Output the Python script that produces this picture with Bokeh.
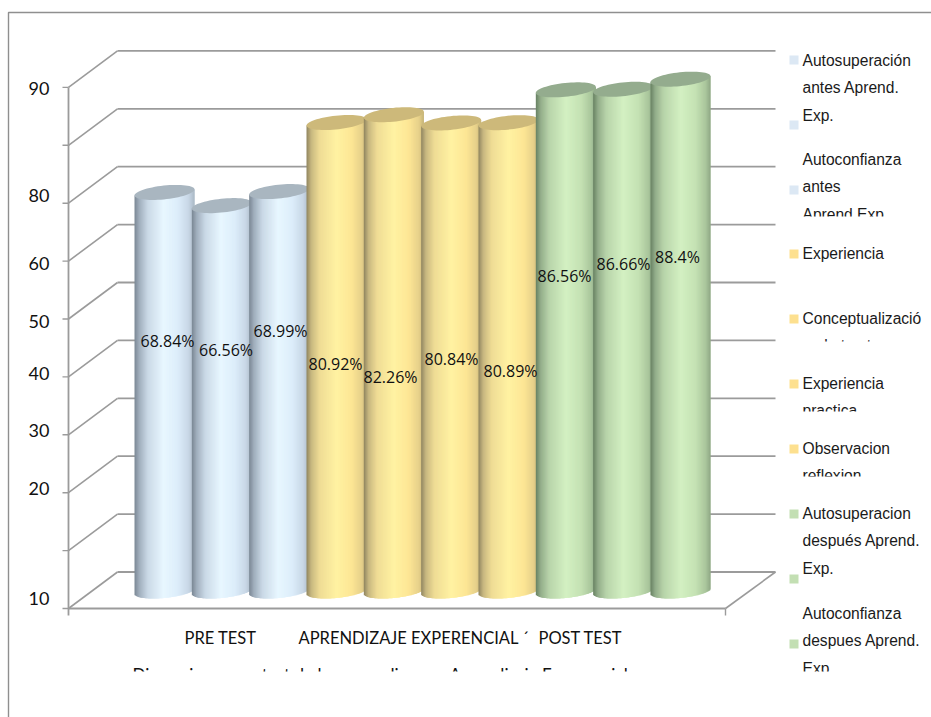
import numpy as np
from bokeh.core.properties import value
from bokeh.embed import file_html
from bokeh.models import Range1d
from bokeh.plotting import figure
from bokeh.resources import INLINE

# Series values, one cylinder each, in percent
percentages = [68.84, 66.56, 68.99, 80.92, 82.26, 80.84, 80.89, 86.56, 86.66, 88.4]
percent_labels = ["68.84%", "66.56%", "68.99%", "80.92%", "82.26%",
                  "80.84%", "80.89%", "86.56%", "86.66%", "88.4%"]
group_of_bar = ["blue"] * 3 + ["yellow"] * 4 + ["green"] * 3

axis_ticks = [0, 10, 20, 30, 40, 50, 60, 70, 80, 90]
axis_labels = ["90", "80", "60", "50", "40", "30", "20", "10"]
categories = ["PRE TEST", "APRENDIZAJE EXPERENCIAL ´", "POST TEST"]
chart_title = "Dimensiones pre test de los aprendices en Aprendizaje Experencial"

legend_entries = [
    ("blue", ["Autosuperación", "antes Aprend.", "Exp."]),
    ("blue", ["Autoconfianza", "antes", "Aprend Exp"]),
    ("yellow", ["Experiencia"]),
    ("yellow", ["Conceptualizació", "n abstracta"]),
    ("yellow", ["Experiencia", "practica"]),
    ("yellow", ["Observacion", "reflexion"]),
    ("green", ["Autosuperacion", "después Aprend.", "Exp."]),
    ("green", ["Autoconfianza", "despues Aprend.", "Exp."]),
]

# Page layout, in screen pixels
W, H = 931, 717
PX_PER_UNIT = 5.79
ZERO_PY = 608.0


def val(py):
    """Value-axis coordinate of a screen row."""
    return (ZERO_PY - np.asarray(py, dtype=float)) / PX_PER_UNIT


p = figure(width=W, height=H, output_backend="svg", toolbar_location=None,
           x_range=Range1d(0, W), y_range=Range1d(float(val(H)), float(val(0))),
           min_border=0, x_axis_type=None, y_axis_type=None)
p.grid.visible = False
p.outline_line_color = None
p.background_fill_color = "white"
p.border_fill_color = "white"

GRID = "#9b9b9b"

# Outer frame: only the top and left edges fall inside the page
p.line([8, 8, W], val([H, 12, 12]).tolist(), line_color="#8f8f8f", line_width=1.4)

# 3D box: back wall rules, left wall diagonals, floor
DEPTH_X, DEPTH_Y = 49, 36.5
FRONT_L, FRONT_R = 68, 725
BACK_L, BACK_R = FRONT_L + DEPTH_X, 775
tv = np.array(axis_ticks, dtype=float)
depth_v = DEPTH_Y / PX_PER_UNIT
p.segment(BACK_L, tv + depth_v, BACK_R, tv + depth_v, line_color=GRID, line_width=1.8)
p.segment(FRONT_L, tv, BACK_L, tv + depth_v, line_color=GRID, line_width=1.6)
p.segment(62, tv, FRONT_L, tv, line_color=GRID, line_width=1.4)
p.segment(FRONT_L, float(val(615)), FRONT_L, 90, line_color=GRID, line_width=1.8)
p.segment(FRONT_L, 0, FRONT_R, 0, line_color=GRID, line_width=1.8)
p.segment(FRONT_R, 0, BACK_R, depth_v, line_color=GRID, line_width=1.6)
p.segment(FRONT_R, float(val(615)), FRONT_R, 0, line_color=GRID, line_width=1.4)

# Cylinder shading: horizontal stops from the left edge to the right edge
SHADES = {
    "blue": [(0.0, "#7a8794"), (0.08, "#a0aebc"), (0.22, "#c9d8e6"), (0.48, "#e8f7ff"),
             (0.72, "#dcedfa"), (0.9, "#c8d7e6"), (1.0, "#aab8c5")],
    "yellow": [(0.0, "#8f8560"), (0.08, "#c8b880"), (0.22, "#efdc95"), (0.5, "#fff2a2"),
               (0.75, "#fde695"), (0.92, "#e6d08a"), (1.0, "#c5b378")],
    "green": [(0.0, "#688163"), (0.08, "#93ad8a"), (0.22, "#b8d4aa"), (0.5, "#d3f0c2"),
              (0.75, "#c5e2b4"), (0.92, "#aac69c"), (1.0, "#8ea885")],
}
CAP = {"blue": "#a9b6c0", "yellow": "#cdb97a", "green": "#94ac8e"}
SWATCH = {"blue": "#dce8f4", "yellow": "#fde08f", "green": "#c3dfb3"}


def shade(group, u):
    stops = SHADES[group]
    pos = [s[0] for s in stops]
    rgb = np.array([[int(s[1][i:i + 2], 16) for i in (1, 3, 5)] for s in stops], dtype=float)
    return "#%02x%02x%02x" % tuple(int(round(np.interp(u, pos, rgb[:, c]))) for c in range(3))


# Cylinders stand on a plane set back from the front edge of the floor
BASE_V = 3.02
RADIUS = 30.0
RY_V = 6.9 / PX_PER_UNIT
TILT = 0.1 / PX_PER_UNIT
FIRST_CENTER, PITCH = 164.0, 57.33

for i, (pct, group) in enumerate(zip(percentages, group_of_bar)):
    cx = FIRST_CENTER + PITCH * i
    left = np.arange(cx - RADIUS, cx + RADIUS, 1.0)
    mid = left + 0.5
    dx = mid - cx
    lean = TILT * dx
    top_edge = BASE_V + pct + lean
    bottom_edge = BASE_V + lean - RY_V * np.sqrt(np.clip(1 - (dx / RADIUS) ** 2, 0, 1))
    colors = [shade(group, float(u)) for u in (dx + RADIUS) / (2 * RADIUS)]
    # Each strip runs under its neighbour so no background shows between them
    p.quad(left=left, right=np.minimum(left + 2.2, cx + RADIUS), top=top_edge, bottom=bottom_edge,
           fill_color=colors, line_color=None)
    t = np.linspace(0, 2 * np.pi, 64)
    cap_x = cx + RADIUS * np.cos(t)
    cap_y = BASE_V + pct + TILT * RADIUS * np.cos(t) + RY_V * np.sin(t)
    p.patch(cap_x, cap_y, fill_color=CAP[group], line_color=None)

FONT_DATA = value("Open Sans")
FONT_AXIS = value("Lato")
FONT_LEGEND = value("Liberation Sans")

# Percent captions
label_x = [167, 225.5, 280, 335, 390, 451, 510, 564, 623, 677]
label_y = [340, 349, 330, 363, 376, 358, 370, 275, 263, 256]
p.text(label_x, val(label_y), text=percent_labels, text_font=FONT_DATA, text_font_size="16px",
       text_align="center", text_baseline="middle", text_color="#111111")

# Value-axis captions
axis_label_y = [88, 195, 263, 321, 373, 430, 488, 598]
p.text([49] * len(axis_labels), val(axis_label_y), text=axis_labels, text_font=FONT_AXIS,
       text_font_size="18px", text_align="right", text_baseline="middle", text_color="#111111")

# Category captions
p.text([184, 298, 538], val([637] * 3), text=categories, text_font=FONT_AXIS, text_font_size="16.5px",
       text_align="left", text_baseline="middle", text_color="#111111")

# Chart title sits partly below the edge of its box
p.text([132], val([674]), text=[chart_title], text_font=FONT_AXIS, text_font_size="17px",
       text_align="left", text_baseline="middle", text_color="#111111")

# Legend
swatch_top = [55, 120, 185, 249, 314, 379, 444, 509, 574, 639]
swatch_colors = ["blue", "blue", "blue", "yellow", "yellow", "yellow", "yellow", "green", "green", "green"]
p.quad(left=789, right=798, top=val(swatch_top), bottom=val(np.array(swatch_top) + 9),
       fill_color=[SWATCH[c] for c in swatch_colors], line_color=None)

entry_first_line = [60, 159, 253, 318, 383, 448, 513, 613]
for (group, lines), y0 in zip(legend_entries, entry_first_line):
    ys = [y0 + 27.4 * k for k in range(len(lines))]
    p.text([802] * len(lines), val(ys), text=lines, text_font=FONT_LEGEND, text_font_size="15.6px",
           text_align="left", text_baseline="middle", text_color="#1a1a1a")

# Text boxes cut their last line short
cut_rows = [216, 341, 411, 476, 671]
p.quad(left=800, right=W, top=val(cut_rows), bottom=val(np.array(cut_rows) + 14),
       fill_color="white", line_color=None)
p.quad(left=120, right=700, top=float(val(671)), bottom=float(val(690)), fill_color="white", line_color=None)

open("out.html", "w").write(file_html(p, INLINE))
